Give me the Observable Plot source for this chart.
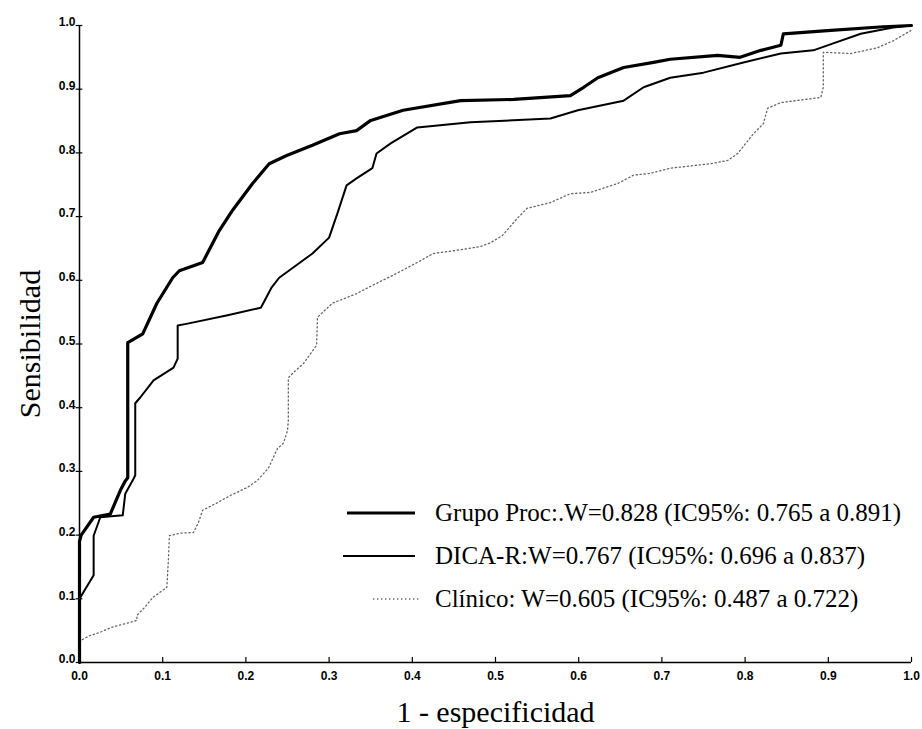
<!DOCTYPE html>
<html>
<head>
<meta charset="utf-8">
<script src="https://cdn.jsdelivr.net/npm/d3@7"></script>
<script src="https://cdn.jsdelivr.net/npm/@observablehq/plot@0.6"></script>
<style>
  html, body { margin: 0; padding: 0; background: #fff; }
  #wrap { position: relative; width: 922px; height: 729px; }
  #legend { position: absolute; left: 343px; top: 491px; font-family: "Liberation Serif", "Times New Roman", serif; font-size: 25px; color: #000; }
  #legend .row { display: flex; align-items: center; height: 43px; white-space: nowrap; }
  #legend svg { width: 92px; height: 10px; flex: none; }
</style>
</head>
<body>
<div id="wrap"></div>
<script>
// ---- data ----
const seriesNames = ["Grupo Proc", "DICA-R", "Clínico"];
const legendLabels = [
  "Grupo Proc:.W=0.828 (IC95%: 0.765 a 0.891)",
  "DICA-R:W=0.767 (IC95%: 0.696 a 0.837)",
  "Clínico: W=0.605 (IC95%: 0.487 a 0.722)"
];
const xTicks = [0, 0.1, 0.2, 0.3, 0.4, 0.5, 0.6, 0.7, 0.8, 0.9, 1.0];
const yTicks = [0, 0.1, 0.2, 0.3, 0.4, 0.5, 0.6, 0.7, 0.8, 0.9, 1.0];
const xTitle = "1 - especificidad";
const yTitle = "Sensibilidad";

const grupoFPR = [0, 0, 0.002, 0.017, 0.037, 0.049, 0.055, 0.058, 0.058, 0.076, 0.093, 0.112, 0.120, 0.148, 0.168, 0.184, 0.208, 0.228, 0.249, 0.280, 0.3125, 0.333, 0.350, 0.389, 0.458, 0.522, 0.590, 0.606, 0.623, 0.654, 0.690, 0.710, 0.767, 0.794, 0.819, 0.843, 0.846, 0.899, 0.966, 1.0];
const grupoTPR = [0, 0.19, 0.20, 0.228, 0.233, 0.27, 0.285, 0.29, 0.502, 0.516, 0.564, 0.604, 0.615, 0.628, 0.678, 0.710, 0.752, 0.783, 0.796, 0.812, 0.830, 0.835, 0.851, 0.867, 0.882, 0.884, 0.890, 0.903, 0.918, 0.934, 0.942, 0.947, 0.953, 0.950, 0.961, 0.969, 0.987, 0.992, 0.998, 1.0];

const dicaFPR = [0, 0, 0.017, 0.017, 0.025, 0.052, 0.055, 0.064, 0.067, 0.067, 0.073, 0.089, 0.113, 0.118, 0.118, 0.130, 0.178, 0.218, 0.231, 0.240, 0.280, 0.300, 0.310, 0.321, 0.333, 0.352, 0.357, 0.374, 0.406, 0.470, 0.566, 0.599, 0.654, 0.678, 0.710, 0.750, 0.798, 0.843, 0.882, 0.906, 0.939, 0.959, 0.978, 1.0];
const dicaTPR = [0, 0.10, 0.137, 0.199, 0.228, 0.231, 0.265, 0.286, 0.294, 0.407, 0.416, 0.443, 0.463, 0.477, 0.529, 0.532, 0.545, 0.557, 0.589, 0.604, 0.642, 0.667, 0.705, 0.749, 0.760, 0.776, 0.799, 0.815, 0.840, 0.848, 0.854, 0.867, 0.882, 0.903, 0.918, 0.926, 0.942, 0.956, 0.961, 0.972, 0.987, 0.992, 0.997, 1.0];

const clinFPR = [0, 0, 0.002, 0.012, 0.024, 0.038, 0.069, 0.069, 0.078, 0.088, 0.105, 0.107, 0.108, 0.121, 0.137, 0.143, 0.148, 0.166, 0.181, 0.202, 0.214, 0.227, 0.238, 0.245, 0.250, 0.251, 0.251, 0.257, 0.269, 0.285, 0.286, 0.304, 0.333, 0.352, 0.377, 0.406, 0.425, 0.458, 0.482, 0.494, 0.508, 0.526, 0.538, 0.566, 0.590, 0.614, 0.647, 0.666, 0.686, 0.710, 0.758, 0.779, 0.791, 0.810, 0.822, 0.827, 0.843, 0.891, 0.894, 0.894, 0.927, 0.959, 0.978, 0.999];
const clinTPR = [0, 0.03, 0.035, 0.042, 0.047, 0.055, 0.066, 0.074, 0.086, 0.102, 0.118, 0.165, 0.199, 0.203, 0.204, 0.220, 0.239, 0.251, 0.262, 0.275, 0.286, 0.305, 0.336, 0.344, 0.364, 0.380, 0.447, 0.455, 0.469, 0.498, 0.542, 0.564, 0.579, 0.592, 0.608, 0.628, 0.642, 0.648, 0.653, 0.659, 0.670, 0.697, 0.713, 0.722, 0.736, 0.738, 0.752, 0.765, 0.768, 0.776, 0.783, 0.788, 0.799, 0.830, 0.846, 0.870, 0.879, 0.887, 0.903, 0.958, 0.956, 0.965, 0.976, 0.992];

// ---- build tables ----
const toRows = (xs, ys, s) => xs.map((x, i) => ({fpr: x, tpr: ys[i], serie: s}));
const grupo = toRows(grupoFPR, grupoTPR, seriesNames[0]);
const dica = toRows(dicaFPR, dicaTPR, seriesNames[1]);
const clin = toRows(clinFPR, clinTPR, seriesNames[2]);

const tickFont = {fontFamily: "'Liberation Sans Narrow', 'Arial Narrow', sans-serif", fontWeight: "bold", fontSize: 12};
const titleFont = "'Liberation Serif', 'Times New Roman', serif";

const chart = Plot.plot({
  width: 922,
  height: 729,
  marginLeft: 79,
  marginRight: 11,
  marginTop: 25,
  marginBottom: 67,
  x: {domain: [0, 1]},
  y: {domain: [0, 1]},
  style: {background: "#fff", color: "#000", overflow: "visible"},
  marks: [
    // axis lines
    Plot.ruleY([0], {stroke: "#000", strokeWidth: 1.5}),
    Plot.ruleX([0], {stroke: "#000", strokeWidth: 1.5}),
    // tick marks
    Plot.ruleX(xTicks, {x: d => d, y1: 0, y2: 0.008, stroke: "#000", strokeWidth: 1.2}),
    Plot.ruleY(yTicks, {y: d => d, x1: -0.004, x2: 0.004, stroke: "#000", strokeWidth: 1.2}),
    // tick labels
    Plot.axisX({ticks: xTicks, tickSize: 0, tickPadding: 9, tickFormat: d3.format(".1f"), label: null, ...tickFont}),
    Plot.axisY({ticks: yTicks, tickSize: 0, tickPadding: 4, dy: -3, tickFormat: d3.format(".1f"), label: null, ...tickFont}),
    // curves
    Plot.line(clin, {x: "fpr", y: "tpr", stroke: "#666", strokeWidth: 1.3, strokeDasharray: "1.3,2.7"}),
    Plot.line(dica, {x: "fpr", y: "tpr", stroke: "#000", strokeWidth: 2}),
    Plot.line(grupo, {x: "fpr", y: "tpr", stroke: "#000", strokeWidth: 3.2}),
    // titles
    Plot.text([xTitle], {frameAnchor: "bottom", textAnchor: "middle", lineAnchor: "middle", dy: 50, fontFamily: titleFont, fontSize: 30, fill: "#000"}),
    Plot.text([yTitle], {frameAnchor: "left", textAnchor: "middle", lineAnchor: "middle", dx: -49, rotate: -90, fontFamily: titleFont, fontSize: 30, fill: "#000"})
  ]
});

const wrap = document.getElementById("wrap");
wrap.appendChild(chart);

// legend (HTML overlay, inside the plot area)
const styles = [
  {stroke: "#000", w: 3.2, dash: null, x1: 4, x2: 72},
  {stroke: "#000", w: 2, dash: null, x1: 0, x2: 72},
  {stroke: "#666", w: 1.3, dash: "1.3,2.7", x1: 30, x2: 78}
];
const legend = document.createElement("div");
legend.id = "legend";
legendLabels.forEach((lab, i) => {
  const row = document.createElement("div");
  row.className = "row";
  const s = styles[i];
  row.innerHTML = `<svg viewBox="0 0 92 10"><line x1="${s.x1}" x2="${s.x2}" y1="5" y2="5" stroke="${s.stroke}" stroke-width="${s.w}" ${s.dash ? `stroke-dasharray="${s.dash}"` : ""}/></svg><span>${lab}</span>`;
  legend.appendChild(row);
});
wrap.appendChild(legend);
</script>
</body>
</html>
